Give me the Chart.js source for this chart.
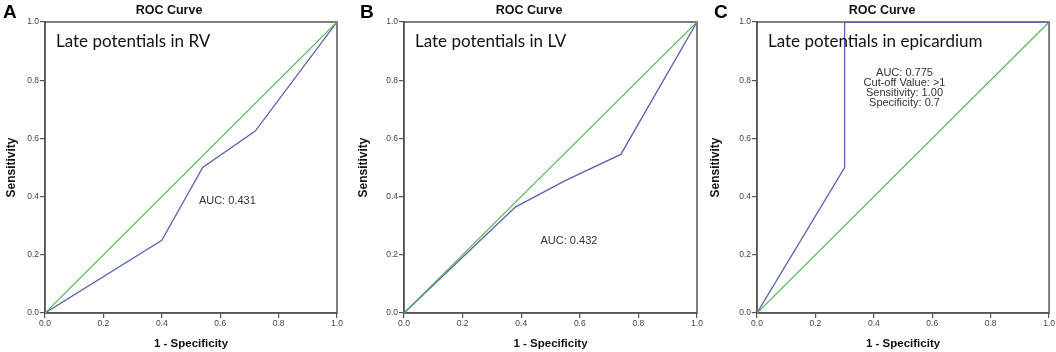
<!DOCTYPE html>
<html lang="en">
<head>
<meta charset="UTF-8">
<title>ROC Curves</title>
<script src="https://cdn.jsdelivr.net/npm/chart.js"></script>
<style>
  body { margin: 0; background: #fff; }
  #wrap { position: relative; width: 1056px; height: 352px; }
  .panel { position: absolute; top: 0; width: 352px; height: 352px; }
</style>
</head>
<body>
<div id="wrap">
  <div class="panel" style="left:0px"><canvas id="chartA" width="352" height="352"></canvas></div>
  <div class="panel" style="left:352px"><canvas id="chartB" width="352" height="352"></canvas></div>
  <div class="panel" style="left:704px"><canvas id="chartC" width="352" height="352"></canvas></div>
</div>
<script>
// ROC curve points (1 - specificity, sensitivity)
const rocX_A = [0, 0.40, 0.54, 0.72, 1];
const rocY_A = [0, 0.25, 0.50, 0.625, 1];
const rocX_B = [0, 0.38, 0.55, 0.74, 1];
const rocY_B = [0, 0.364, 0.455, 0.545, 1];
const rocX_C = [0, 0.30, 0.30, 1];
const rocY_C = [0, 0.50, 1, 1];
// reference line
const refX = [0, 1];
const refY = [0, 1];

const axisTicks = [0, 0.2, 0.4, 0.6, 0.8, 1.0];
const panelLetters = ['A', 'B', 'C'];
const panelTitle = 'ROC Curve';
const panelLabels = ['Late potentials in RV', 'Late potentials in LV', 'Late potentials in epicardium'];
const aucNotes = [
  ['AUC: 0.431'],
  ['AUC: 0.432'],
  ['AUC: 0.775', 'Cut-off Value: >1', 'Sensitivity: 1.00', 'Specificity: 0.7']
];
const xTitle = '1 - Specificity';
const yTitle = 'Sensitivity';

const BLUE = 'rgb(88,98,178)';
const GREEN = 'rgb(78,182,82)';
const AXIS = '#555';
const FONT = '"Liberation Sans", Arial, sans-serif';

function toPoints(xs, ys) {
  return xs.map((x, i) => ({ x: x, y: ys[i] }));
}

// per panel: plot left edge, right padding, letter / title x, note anchor (data coords)
const panelSetup = [
  { left: 45, padRight: 15, letterX: 3, titleX: 169, note: { x: 0.527, y: 0.385, align: 'left' } },
  { left: 52, padRight: 7, letterX: 8, titleX: 177, note: { x: 0.563, y: 0.247, align: 'center' } },
  { left: 53, padRight: 6, letterX: 10, titleX: 178, note: { x: 0.505, y: 0.826, align: 'center' } }
];

const textPlugin = {
  id: 'panelText',
  beforeDatasetsDraw(chart) {
    const a = chart.chartArea;
    const ctx = chart.ctx;
    ctx.save();
    ctx.strokeStyle = AXIS;
    ctx.lineWidth = 1.5;
    ctx.strokeRect(a.left, a.top, a.right - a.left, a.bottom - a.top);
    ctx.restore();
  },
  afterDatasetsDraw(chart, args, opts) {
    const ctx = chart.ctx;
    const a = chart.chartArea;
    const sx = chart.scales.x, sy = chart.scales.y;
    ctx.save();
    // panel letter
    ctx.fillStyle = '#000';
    ctx.font = 'bold 19px ' + FONT;
    ctx.textBaseline = 'middle';
    ctx.textAlign = 'left';
    ctx.fillText(opts.letter, opts.letterX, 13);
    // title
    ctx.font = 'bold 12.5px ' + FONT;
    ctx.fillStyle = '#111';
    ctx.textAlign = 'center';
    ctx.fillText(panelTitle, opts.titleX, 11);
    // big label
    ctx.font = '17px Lato, "Open Sans", sans-serif';
    ctx.fillStyle = '#111';
    ctx.textAlign = 'left';
    ctx.textBaseline = 'alphabetic';
    ctx.fillText(opts.label, a.left + 11, a.top + 25);
    // AUC note
    ctx.font = '11px ' + FONT;
    ctx.fillStyle = '#333';
    ctx.textAlign = opts.note.align;
    ctx.textBaseline = 'middle';
    const nx = sx.getPixelForValue(opts.note.x);
    const ny = sy.getPixelForValue(opts.note.y);
    opts.lines.forEach((t, i) => ctx.fillText(t, nx, ny + i * 10.2));
    ctx.restore();
  }
};

function makeChart(id, idx, xs, ys) {
  const setup = panelSetup[idx];
  return new Chart(document.getElementById(id), {
    type: 'scatter',
    data: {
      datasets: [
        {
          data: toPoints(refX, refY),
          showLine: true,
          borderColor: GREEN,
          borderWidth: 1.2,
          pointRadius: 0,
          tension: 0
        },
        {
          data: toPoints(xs, ys),
          showLine: true,
          borderColor: BLUE,
          borderWidth: 1.3,
          pointRadius: 0,
          tension: 0
        }
      ]
    },
    options: {
      responsive: false,
      animation: false,
      layout: { padding: { top: 22, right: setup.padRight, left: 0, bottom: 0 } },
      plugins: {
        legend: { display: false },
        tooltip: { enabled: false },
        panelText: {
          letter: panelLetters[idx],
          letterX: setup.letterX,
          titleX: setup.titleX,
          label: panelLabels[idx],
          lines: aucNotes[idx],
          note: setup.note
        }
      },
      scales: {
        x: {
          type: 'linear',
          min: 0, max: 1,
          afterBuildTicks: s => { s.ticks = axisTicks.map(v => ({ value: v })); },
          afterFit: s => { s.height = 39; },
          grid: { display: true, drawOnChartArea: false, drawTicks: true, tickLength: 5, color: AXIS, lineWidth: 1.2 },
          border: { display: true, color: AXIS, width: 1.5 },
          ticks: {
            padding: 1,
            maxRotation: 0,
            color: '#444',
            font: { size: 8.5, family: FONT },
            callback: v => v.toFixed(1)
          },
          title: {
            display: true,
            text: xTitle,
            color: '#111',
            font: { size: 11.5, weight: 'bold', family: FONT },
            padding: { top: 0, bottom: 1 }
          }
        },
        y: {
          type: 'linear',
          min: 0, max: 1,
          afterBuildTicks: s => { s.ticks = axisTicks.map(v => ({ value: v })); },
          afterFit: s => { s.width = setup.left; },
          grid: { display: true, drawOnChartArea: false, drawTicks: true, tickLength: 5, color: AXIS, lineWidth: 1.2 },
          border: { display: true, color: AXIS, width: 1.5 },
          ticks: {
            padding: 1,
            color: '#444',
            font: { size: 8.5, family: FONT },
            callback: v => v.toFixed(1)
          },
          title: {
            display: true,
            text: yTitle,
            color: '#111',
            font: { size: 12, weight: 'bold', family: FONT },
            padding: { top: 4, bottom: 0 }
          }
        }
      }
    },
    plugins: [textPlugin]
  });
}

makeChart('chartA', 0, rocX_A, rocY_A);
makeChart('chartB', 1, rocX_B, rocY_B);
makeChart('chartC', 2, rocX_C, rocY_C);
</script>
</body>
</html>
